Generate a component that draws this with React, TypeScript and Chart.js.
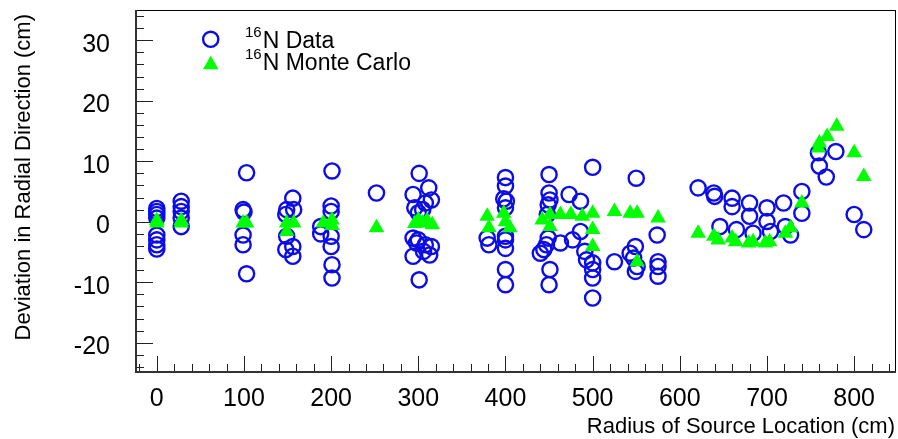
import { useEffect, useRef } from "react";
import { Chart, registerables } from "chart.js";

Chart.register(...registerables);

// 16N Data (open circles)
const dataX = [
  0, 0, 0, 0, 0, 0, 0, 0,
  28, 28, 28, 28, 28,
  103, 99, 100, 99, 99, 103,
  156, 149, 157, 148, 149, 148, 156, 156,
  201, 200, 200, 188, 188, 200, 200, 201, 201,
  252,
  301, 312, 294, 315, 308, 296, 300, 305, 294, 298, 315, 306, 294, 313, 301, 300, 308,
  379, 381,
  400, 400, 398, 401, 400, 400, 400, 400, 400, 400,
  450, 450, 451, 449, 448, 449, 447, 440, 444, 451, 450, 463,
  473, 486, 477, 486, 491, 493,
  500, 500, 500, 500, 500,
  525,
  550, 549, 543, 547, 551, 549,
  574, 575, 575, 575,
  621,
  639, 640, 646,
  660, 660, 665,
  680, 680, 684,
  700, 700, 704,
  719, 721, 727,
  740, 740,
  759, 760, 768,
  779,
  800,
  811,
];
const dataY = [
  2.2, 1.7, 1.2, 0.6, -2.2, -3.0, -3.8, -4.5,
  3.4, 2.5, 1.7, 0.6, -0.8,
  8.1, 2.0, 1.6, -2.2, -3.8, -8.6,
  3.9, 2.0, 2.0, 1.2, -2.4, -4.6, -4.1, -5.7,
  8.4, 2.6, 1.7, -0.8, -2.0, -2.4, -4.1, -7.1, -9.3,
  4.75,
  8.0, 5.6, 4.5, 3.6, 3.1, 2.3, 1.5, 2.0, -2.7, -3.5, -4.1, -4.9, -5.7, -5.5, -9.6, -3.0, -3.8,
  -2.7, -3.8,
  7.3, 5.9, 3.8, 3.4, 2.3, -2.4, -3.0, -4.4, -7.9, -10.4,
  7.8, 4.75, 3.6, 2.8, 1.2, -2.7, -3.8, -5.2, -4.6, -7.9, -10.4, -3.5,
  4.5, 3.4, -3.0, -1.6, -4.9, -6.3,
  9.0, -6.8, -7.9, -9.3, -12.6,
  -6.6,
  7.2, -4.1, -5.2, -6.0, -7.4, -8.2,
  -2.2, -6.6, -7.4, -9.0,
  5.6,
  4.75, 4.2, -0.8,
  3.9, 2.5, -1.3,
  3.1, 0.9, -1.9,
  2.3, 0.05, -1.6,
  3.1, -0.8, -2.2,
  5.0, 1.4,
  11.4, 9.2, 7.4,
  11.6,
  1.2,
  -1.3,
];

// 16N Monte Carlo (filled triangles)
const mcX = [
  0, 0, 28, 28, 99, 103, 149, 157, 149,
  191, 201, 201,
  252,
  296, 300, 305, 310, 316,
  379, 381,
  398, 400, 405,
  442, 451, 451, 463, 475, 488, 500, 500, 500,
  525, 543, 551, 551,
  575,
  621, 639, 644, 660, 664, 679, 684, 698, 703, 721, 727,
  740,
  759, 760, 769, 780,
  800, 811,
];
const mcY = [
  -0.2, 0.2, -0.2, 0.2, -0.2, -0.2, -0.2, -0.2, -1.6,
  -0.2, 0.3, -0.6,
  -1.0,
  -0.3, 0.3, -0.2, 0.2, -0.5,
  0.9, -1.0,
  1.4, 0.0, -1.0,
  0.3, 1.2, -0.8, 1.2, 1.2, 0.9, 1.4, -1.3, -4.1,
  1.7, 1.4, 1.4, -6.6,
  0.6,
  -1.9, -2.4, -3.0, -2.7, -3.3, -3.5, -3.3, -3.5, -3.3, -1.9, -1.0,
  3.1,
  12.2, 13.0, 14.1, 15.8,
  11.4, 7.5,
];

const xTickValues = [0, 100, 200, 300, 400, 500, 600, 700, 800];
const yTickValues = [-20, -10, 0, 10, 20, 30];
const xMinorStep = 20;
const yMinorStep = 2;

const xTitle = "Radius of Source Location (cm)";
const yTitle = "Deviation in Radial Direction (cm)";
const legendSup = ["16", "16"];
const legendText = ["N Data", "N Monte Carlo"];

const DATA_COLOR = "#0c0ce8";
const MC_COLOR = "#00ff00";
const FONT = '"Liberation Sans", Arial, sans-serif';

const framePlugin = {
  id: "rootFrame",
  beforeDatasetsDraw(chart: any) {
    const { ctx, chartArea: ca, scales } = chart;
    const xs = scales.x;
    const ys = scales.y;
    ctx.save();
    ctx.strokeStyle = "#222";
    ctx.lineWidth = 1;
    const yStart = Math.ceil(ys.min / yMinorStep) * yMinorStep;
    for (let v = yStart; v <= ys.max + 1e-9; v += yMinorStep) {
      const py = Math.round(ys.getPixelForValue(v)) + 0.5;
      const major = Math.abs(v % 10) < 1e-9;
      const len = major ? 18 : 9;
      ctx.beginPath();
      ctx.moveTo(ca.left, py);
      ctx.lineTo(ca.left + len, py);
      ctx.stroke();
    }
    const xStart = Math.ceil(xs.min / xMinorStep) * xMinorStep;
    for (let v = xStart; v <= xs.max + 1e-9; v += xMinorStep) {
      const px = Math.round(xs.getPixelForValue(v)) + 0.5;
      const major = Math.abs(v % 100) < 1e-9;
      const len = major ? 17 : 9;
      ctx.beginPath();
      ctx.moveTo(px, ca.bottom);
      ctx.lineTo(px, ca.bottom - len);
      ctx.stroke();
    }
    ctx.restore();
  },
  afterDraw(chart: any) {
    const { ctx, chartArea: ca, scales } = chart;
    const xs = scales.x;
    const ys = scales.y;
    ctx.save();
    // frame
    ctx.strokeStyle = "#000";
    ctx.lineWidth = 1;
    ctx.strokeRect(ca.left + 0.5, ca.top + 0.5, ca.right - ca.left - 1, ca.bottom - ca.top - 1);
    ctx.lineWidth = 2;
    ctx.strokeStyle = "#333";
    ctx.beginPath();
    ctx.moveTo(ca.left + 1, ca.top);
    ctx.lineTo(ca.left + 1, ca.bottom - 1);
    ctx.lineTo(ca.right, ca.bottom - 1);
    ctx.stroke();

    // tick labels
    ctx.fillStyle = "#000";
    ctx.font = `25px ${FONT}`;
    ctx.textBaseline = "alphabetic";
    ctx.textAlign = "right";
    for (const v of yTickValues) {
      const py = ys.getPixelForValue(v);
      ctx.fillText(String(v), ca.left - 25, py + 11.5);
    }
    ctx.textAlign = "center";
    for (const v of xTickValues) {
      const px = xs.getPixelForValue(v);
      ctx.fillText(String(v), px, 406);
    }

    // axis titles
    ctx.font = `22px ${FONT}`;
    ctx.textAlign = "right";
    ctx.fillText(xTitle, ca.right - 1, 433);
    ctx.save();
    ctx.translate(30, ca.top + 4);
    ctx.rotate(-Math.PI / 2);
    ctx.textAlign = "right";
    ctx.fillText(yTitle, 0, 0);
    ctx.restore();

    // legend
    const lx = 210.7;
    const rows = [39.3, 62.7];
    ctx.strokeStyle = DATA_COLOR;
    ctx.lineWidth = 2.4;
    ctx.beginPath();
    ctx.arc(lx, rows[0], 7.6, 0, Math.PI * 2);
    ctx.stroke();
    const r = 9;
    const cy = rows[1] + 2;
    ctx.fillStyle = MC_COLOR;
    ctx.beginPath();
    ctx.moveTo(lx, cy - r);
    ctx.lineTo(lx + Math.sin((2 * Math.PI) / 3) * r, cy + r / 2);
    ctx.lineTo(lx - Math.sin((2 * Math.PI) / 3) * r, cy + r / 2);
    ctx.closePath();
    ctx.fill();

    ctx.fillStyle = "#000";
    ctx.textAlign = "left";
    const baselines = [48, 70];
    for (let i = 0; i < 2; i++) {
      ctx.font = `15px ${FONT}`;
      ctx.fillText(legendSup[i], 245, baselines[i] - 11);
      const w = ctx.measureText(legendSup[i]).width;
      ctx.font = `23px ${FONT}`;
      ctx.fillText(legendText[i], 245 + w + 1, baselines[i]);
    }
    ctx.restore();
  },
};

export default function App() {
  const canvasRef = useRef<HTMLCanvasElement | null>(null);

  useEffect(() => {
    document.body.style.margin = "0";
    const canvas = canvasRef.current;
    if (!canvas) return;
    const chart = new Chart(canvas, {
      type: "scatter",
      data: {
        datasets: [
          {
            label: "16N Data",
            order: 2,
            data: dataX.map((x, i) => ({ x, y: dataY[i] })),
            pointStyle: "circle",
            pointRadius: 7.6,
            pointHoverRadius: 7.6,
            pointBorderWidth: 2.4,
            borderColor: DATA_COLOR,
            backgroundColor: "rgba(0,0,0,0)",
          },
          {
            label: "16N Monte Carlo",
            order: 1,
            data: mcX.map((x, i) => ({ x, y: mcY[i] })),
            pointStyle: "triangle",
            pointRadius: 9,
            pointHoverRadius: 9,
            pointBorderWidth: 0,
            borderColor: MC_COLOR,
            backgroundColor: MC_COLOR,
          },
        ],
      },
      options: {
        responsive: false,
        animation: false,
        devicePixelRatio: 1,
        layout: { autoPadding: false, padding: { left: 0, right: 2, top: 10, bottom: 0 } },
        plugins: { legend: { display: false }, tooltip: { enabled: false } },
        scales: {
          x: {
            type: "linear",
            min: -25,
            max: 848,
            afterBuildTicks: (s: any) => {
              s.ticks = xTickValues.map((v) => ({ value: v }));
            },
            afterFit: (s: any) => {
              s.height = 66;
            },
            grid: { display: false, drawTicks: false },
            border: { display: false },
            ticks: { display: false },
          },
          y: {
            type: "linear",
            min: -25,
            max: 35,
            afterBuildTicks: (s: any) => {
              s.ticks = yTickValues.map((v) => ({ value: v }));
            },
            afterFit: (s: any) => {
              s.width = 135;
            },
            grid: { display: false, drawTicks: false },
            border: { display: false },
            ticks: { display: false },
          },
        },
      },
      plugins: [framePlugin],
    });
    return () => chart.destroy();
  }, []);

  return (
    <div style={{ width: 898, height: 439, overflow: "hidden" }}>
      <canvas ref={canvasRef} width={898} height={439} style={{ display: "block" }} />
    </div>
  );
}
